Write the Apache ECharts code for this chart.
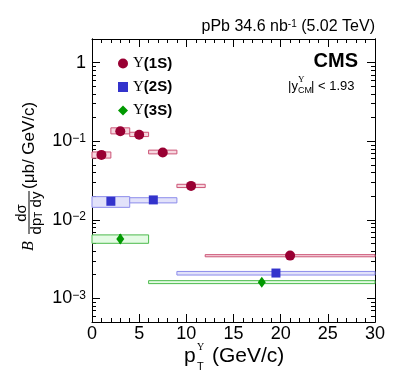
<!DOCTYPE html>
<html>
<head>
<meta charset="utf-8">
<script src="https://cdn.jsdelivr.net/npm/echarts@6/dist/echarts.min.js"></script>
<style>
html, body { margin: 0; padding: 0; background: #fff; }
#container { width: 399px; height: 383px; }
</style>
</head>
<body>
<div id="container"></div>
<script>
// Upsilon(1S)
var s1Pt = [1, 3, 5, 7.5, 10.5, 21];
var s1Val = [0.067, 0.134, 0.121, 0.072, 0.027, 0.0035];
var s1BinLo = [0, 2, 4, 6, 9, 12];
var s1BinHi = [2, 4, 6, 9, 12, 30];
var s1SysLo = [0.061, 0.124, 0.1146, 0.069, 0.0257, 0.00338];
var s1SysHi = [0.073, 0.148, 0.130, 0.077, 0.0283, 0.0036];
// Upsilon(2S)
var s2Pt = [2, 6.5, 19.5];
var s2Val = [0.0172, 0.0179, 0.0021];
var s2BinLo = [0, 4, 9];
var s2BinHi = [4, 9, 30];
var s2SysLo = [0.0144, 0.0164, 0.00198];
var s2SysHi = [0.0197, 0.0191, 0.00220];
// Upsilon(3S)
var s3Pt = [3, 18];
var s3Val = [0.0057, 0.0016];
var s3BinLo = [0, 6];
var s3BinHi = [6, 30];
var s3SysLo = [0.00502, 0.00154];
var s3SysHi = [0.00642, 0.00168];
var s3StatLo = [0.0050, 0.00145];
var s3StatHi = [0.0066, 0.00178];

var legendNames = ['Υ(1S)', 'Υ(2S)', 'Υ(3S)'];
var majorTicks = [0.001, 0.01, 0.1, 1];
var minorTicks = [0.0005, 0.0006, 0.0007, 0.0008, 0.0009,
    0.002, 0.003, 0.004, 0.005, 0.006, 0.007, 0.008, 0.009,
    0.02, 0.03, 0.04, 0.05, 0.06, 0.07, 0.08, 0.09,
    0.2, 0.3, 0.4, 0.5, 0.6, 0.7, 0.8, 0.9, 2];

var FONT = '"Liberation Sans", Arial, sans-serif';
var SERIF = '"Liberation Serif", "DejaVu Serif", serif';

var dom = document.getElementById('container');
var myChart = echarts.init(dom);

function boxSeries(lo, hi, yLo, yHi, fill, stroke) {
    var data = lo.map(function (v, i) { return [lo[i], hi[i], yLo[i], yHi[i]]; });
    return {
        type: 'custom',
        silent: true,
        z: 2,
        encode: { x: [0, 1], y: [2, 3] },
        renderItem: function (params, api) {
            var p1 = api.coord([api.value(0), api.value(3)]);
            var p2 = api.coord([api.value(1), api.value(2)]);
            return {
                type: 'rect',
                shape: { x: p1[0], y: p1[1], width: p2[0] - p1[0], height: p2[1] - p1[1] },
                style: { fill: fill, stroke: stroke, lineWidth: 1 }
            };
        },
        data: data
    };
}

function errSeries(x, lo, hi, color) {
    var data = x.map(function (v, i) { return [x[i], lo[i], hi[i]]; });
    return {
        type: 'custom',
        silent: true,
        z: 3,
        encode: { x: 0, y: [1, 2] },
        renderItem: function (params, api) {
            var a = api.coord([api.value(0), api.value(1)]);
            var b = api.coord([api.value(0), api.value(2)]);
            return {
                type: 'line',
                shape: { x1: a[0], y1: a[1], x2: b[0], y2: b[1] },
                style: { stroke: color, lineWidth: 2 }
            };
        },
        data: data
    };
}

function pointSeries(name, x, y, symbol, size, color) {
    return {
        name: name,
        type: 'scatter',
        symbol: symbol,
        symbolSize: size,
        z: 4,
        itemStyle: { color: color, opacity: 1 },
        data: x.map(function (v, i) { return [x[i], y[i]]; })
    };
}

function yAx(pos, ticks, len, withLabels) {
    return {
        type: 'log',
        logBase: 10,
        min: 0.0005,
        max: 2,
        position: pos,
        axisLine: { show: true, onZero: false, lineStyle: { color: '#000', width: 1 } },
        axisTick: { show: true, inside: true, length: len, customValues: ticks,
            lineStyle: { color: '#000', width: 1 } },
        axisLabel: withLabels ? {
            show: true,
            customValues: majorTicks,
            margin: 6,
            formatter: function (v) {
                if (Math.abs(v - 1) < 1e-9) return '{n|1}';
                return '{n|10}{s|−' + Math.round(-Math.log10(v)) + '}';
            },
            rich: {
                n: { fontFamily: FONT, fontSize: 18, color: '#000' },
                s: { fontFamily: FONT, fontSize: 12, color: '#000', verticalAlign: 'top' }
            }
        } : { show: false },
        splitLine: { show: false }
    };
}

function xAx(pos, withLabels) {
    return {
        type: 'value',
        min: 0,
        max: 30,
        interval: 5,
        position: pos,
        axisLine: { show: true, onZero: false, lineStyle: { color: '#000', width: 1 } },
        axisTick: { show: true, inside: true, length: 8, lineStyle: { color: '#000' } },
        minorTick: { show: true, splitNumber: 5, length: 4, lineStyle: { color: '#000' } },
        axisLabel: withLabels ? { show: true, margin: 3, fontFamily: FONT, fontSize: 18, color: '#000' } : { show: false },
        splitLine: { show: false }
    };
}

var option = {
    animation: false,
    backgroundColor: '#fff',
    grid: { left: 92, right: 24, top: 39, bottom: 61 },
    xAxis: [xAx('bottom', true), xAx('top', false)],
    yAxis: [
        yAx('left', majorTicks, 8, true),
        yAx('left', minorTicks, 4, false),
        yAx('right', majorTicks, 8, false),
        yAx('right', minorTicks, 4, false)
    ],
    legend: {
        data: legendNames,
        orient: 'vertical',
        left: 113,
        top: 51,
        itemGap: 8.5,
        itemWidth: 10,
        itemHeight: 10,
        formatter: function (name) {
            return '{u|Υ}{b|' + name.replace('Υ', '') + '}';
        },
        textStyle: {
            rich: {
                u: { fontFamily: SERIF, fontSize: 15, color: '#000' },
                b: { fontFamily: FONT, fontSize: 15, fontWeight: 'bold', color: '#000' }
            }
        }
    },
    graphic: [
        {
            type: 'text', right: 24, top: 19,
            style: {
                text: '{a|pPb 34.6 nb}{s|-1}{a| (5.02 TeV)}',
                rich: {
                    a: { fontFamily: FONT, fontSize: 16, fill: '#000' },
                    s: { fontFamily: FONT, fontSize: 10, fill: '#000', verticalAlign: 'top' }
                }
            }
        },
        {
            type: 'text', right: 41, top: 51,
            style: { text: 'CMS', font: 'bold 20px ' + FONT, fill: '#000' }
        },
        {
            type: 'group', x: 288, y: 0,
            children: [
                { type: 'text', x: 0, y: 86, style: { text: '|y', font: '13px ' + FONT, fill: '#000', verticalAlign: 'middle' } },
                { type: 'text', x: 10, y: 80, style: { text: 'Υ', font: '9px ' + SERIF, fill: '#000', verticalAlign: 'middle' } },
                { type: 'text', x: 10, y: 91, style: { text: 'CM', font: '9px ' + FONT, fill: '#000', verticalAlign: 'middle' } },
                { type: 'text', x: 23, y: 86, style: { text: '| < 1.93', font: '13px ' + FONT, fill: '#000', verticalAlign: 'middle' } }
            ]
        },
        {
            type: 'group', x: 184, y: 0,
            children: [
                { type: 'text', x: 0, y: 356, style: { text: 'p', font: '21px ' + FONT, fill: '#000', verticalAlign: 'middle' } },
                { type: 'text', x: 13, y: 347, style: { text: 'Υ', font: '10px ' + SERIF, fill: '#000', verticalAlign: 'middle' } },
                { type: 'text', x: 13, y: 367, style: { text: 'T', font: '11px ' + FONT, fill: '#000', verticalAlign: 'middle' } },
                { type: 'text', x: 28, y: 356, style: { text: '(GeV/c)', font: '21px ' + FONT, fill: '#000', verticalAlign: 'middle' } }
            ]
        },
        {
            type: 'group', x: 29, y: 251, rotation: Math.PI / 2,
            children: [
                { type: 'text', x: 0, y: 0, style: { text: 'B', font: 'italic 16px ' + SERIF, fill: '#000',
                    verticalAlign: 'middle', align: 'left' } },
                { type: 'text', x: 38, y: -7, style: { text: 'dσ', font: '15px ' + FONT, fill: '#000',
                    verticalAlign: 'middle', align: 'center' } },
                { type: 'line', shape: { x1: 17, y1: 0, x2: 60, y2: 0 }, style: { stroke: '#000', lineWidth: 1 } },
                { type: 'text', x: 38, y: 8, style: {
                    text: '{a|dp}{t|T}{a| dy}', verticalAlign: 'middle', align: 'center',
                    rich: {
                        a: { fontFamily: FONT, fontSize: 15, fill: '#000' },
                        t: { fontFamily: FONT, fontSize: 10, fill: '#000', verticalAlign: 'bottom' }
                    } } },
                { type: 'text', x: 62, y: 0, style: { text: '(μb/ GeV/c)', font: '17px ' + FONT, fill: '#000',
                    verticalAlign: 'middle', align: 'left' } }
            ]
        }
    ],
    series: [
        boxSeries(s1BinLo, s1BinHi, s1SysLo, s1SysHi, '#F6D7DF', '#CC5577'),
        boxSeries(s2BinLo, s2BinHi, s2SysLo, s2SysHi, '#E2E2FA', '#8C8CEB'),
        boxSeries(s3BinLo, s3BinHi, s3SysLo, s3SysHi, '#E4FBE4', '#4CBB4C'),
        errSeries(s3Pt, s3StatLo, s3StatHi, '#009900'),
        pointSeries(legendNames[0], s1Pt, s1Val, 'circle', 10, '#990033'),
        pointSeries(legendNames[1], s2Pt, s2Val, 'rect', 9, '#3333CC'),
        pointSeries(legendNames[2], s3Pt, s3Val, 'diamond', [8, 11], '#009900')
    ]
};
myChart.setOption(option);
</script>
</body>
</html>
